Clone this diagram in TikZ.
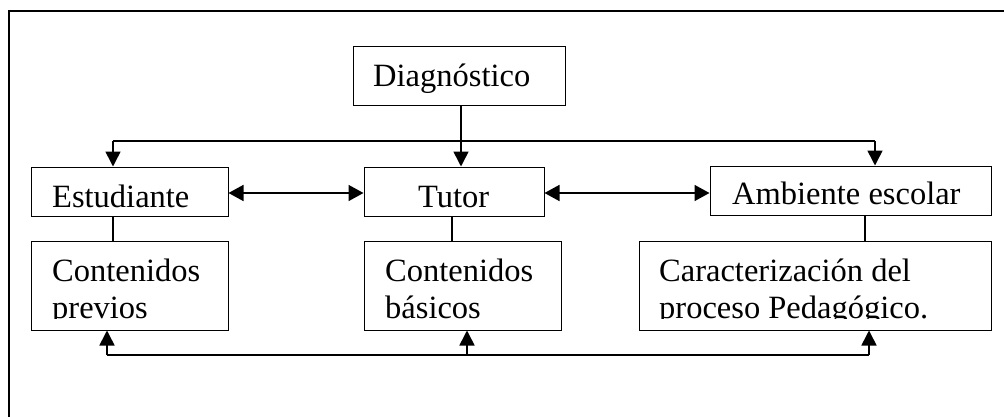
\documentclass[tikz,border=0pt]{standalone}
\usepackage{fontspec}
\setmainfont{Liberation Serif}
\usetikzlibrary{arrows.meta}
\begin{document}
\begin{tikzpicture}[x=1pt,y=1pt,
  box/.style={draw, line width=1pt, inner sep=0pt, minimum width=#1},
  txt/.style={anchor=base west, inner sep=0pt, font=\fontsize{32.5}{37}\selectfont},
  conn/.style={line width=1.6pt},
  arr/.style={line width=1.6pt, -{Triangle[length=15pt,width=15pt]}},
  darr/.style={line width=1.6pt, {Triangle[length=15pt,width=16pt]}-{Triangle[length=15pt,width=16pt]}}]
\useasboundingbox (0,0) rectangle (1004,416);
\begin{scope}
\clip (0,0) rectangle (1004,416);
\draw[line width=1.7pt] (9,-10) -- (9,405) -- (1020,405);
\end{scope}
% boxes
\node[box=212pt, minimum height=58pt] (diag) at (459,340) {};
\node[box=197pt, minimum height=49pt] (est) at (129.5,224.5) {};
\node[box=180pt, minimum height=49pt] (tut) at (454,224.5) {};
\node[box=281pt, minimum height=49pt] (amb) at (850.5,225.5) {};
\node[box=197pt, minimum height=89pt] (cp) at (129.5,130.5) {};
\node[box=197pt, minimum height=89pt] (cb) at (462.5,130.5) {};
\node[box=352pt, minimum height=89pt] (cpp) at (815,130.5) {};
% texts
\node[txt] (tdiag) at (373,329) {Diagnóstico};
\node[txt] (test) at (52,209) {Estudiante};
\node[txt] (ttut) at (418,209) {Tutor};
\node[txt] (tamb) at (732,211.5) {Ambiente escolar};
\begin{scope}
\clip (0,97.5) rectangle (1004,180);
\node[txt] (tcp1) at (52,135) {Contenidos};
\node[txt] (tcp2) at (52,98) {previos};
\node[txt] (tcb1) at (385,135) {Contenidos};
\node[txt] (tcb2) at (385,98) {básicos};
\node[txt] (tcpp1) at (659,135) {Caracterización del};
\node[txt] (tcpp2) at (659,98) {proceso Pedagógico.};
\end{scope}
% top distribution
\coordinate (tl) at (113,275);
\coordinate (tr) at (875,275);
\coordinate (dm) at (461,0);
\draw[conn] (tl) -- (tr);
\draw[arr] (tl) -- (tl |- est.north);
\draw[arr] (tr) -- (tr |- amb.north);
\draw[arr] (dm |- diag.south) -- (dm |- tut.north);
% double arrows
\draw[darr] (est.east |- 0,223) -- (tut.west |- 0,223);
\draw[darr] (tut.east |- 0,223) -- (amb.west |- 0,223);
% short connectors
\draw[line width=1.2pt] (113,0 |- est.south) -- (113,0 |- cp.north);
\draw[line width=1.2pt] (452,0 |- tut.south) -- (452,0 |- cb.north);
\draw[line width=1.2pt] (865,0 |- amb.south) -- (865,0 |- cpp.north);
% bottom line
\coordinate (bl) at (107,61);
\coordinate (bm) at (467,61);
\coordinate (br) at (869,61);
\draw[conn] (bl) -- (br);
\draw[arr] (bl) -- (bl |- cp.south);
\draw[arr] (bm) -- (bm |- cb.south);
\draw[arr] (br) -- (br |- cpp.south);
\end{tikzpicture}
\end{document}
